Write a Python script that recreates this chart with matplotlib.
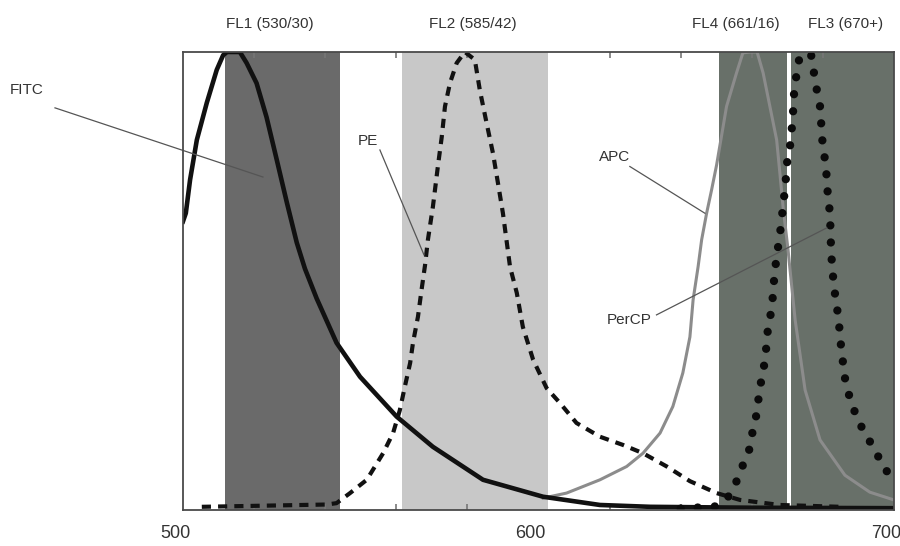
import matplotlib
matplotlib.use('Agg')
import matplotlib.pyplot as plt
from matplotlib.transforms import ScaledTranslation

plt.rcParams['font.family'] = ['Liberation Sans', 'DejaVu Sans']

# ---- filter bands (nm) ----
band_names = ['FL1 (530/30)', 'FL2 (585/42)', 'FL4 (661/16)', 'FL3 (670+)']
band_lo = [511.8, 561.6, 650.8, 671.0]
band_hi = [544.2, 602.7, 669.9, 700.0]
band_colors = ['#6a6a6a', '#c8c8c8', '#687069', '#687069']
band_label_x = [524.5, 581.6, 655.6, 686.5]

# ---- emission spectra (normalised) ----
fitc_nm = [500, 500.8, 502.0, 503.9, 506.7, 509.5, 511.3, 512.4, 516.0, 517.9,
           520.7, 523.5, 526.4, 529.2, 532.0, 534.3, 537.6, 543.2, 549.8, 560.1,
           570.3, 584.4, 601.3, 617.3, 631.4, 660, 700]
fitc_val = [0.63, 0.648, 0.721, 0.808, 0.889, 0.961, 0.993, 1.0, 1.0, 0.976,
            0.932, 0.858, 0.764, 0.672, 0.584, 0.527, 0.462, 0.365, 0.291, 0.204,
            0.138, 0.066, 0.029, 0.011, 0.007, 0.005, 0.004]

pe_nm = [505.3, 540.5, 543.2, 547.0, 551.7, 556.3, 559.1, 561.0, 562.4, 563.9,
         564.7, 566.1, 567.1, 568.1, 568.9, 570.3, 571.7, 572.8, 573.7, 575.1,
         577.0, 579.3, 582.1, 583.5, 585.4, 587.2, 588.6, 590.0, 592.0, 593.9,
         595.6, 598.5, 602.3, 606.0, 610.7, 617.3, 623.8, 629.4, 636.1, 642.6,
         650.1, 656.7, 667.9, 685.0]
pe_val = [0.007, 0.012, 0.015, 0.037, 0.066, 0.124, 0.168, 0.218, 0.269, 0.321,
          0.365, 0.422, 0.480, 0.535, 0.590, 0.662, 0.750, 0.815, 0.881, 0.932,
          0.976, 1.0, 0.983, 0.917, 0.845, 0.779, 0.714, 0.648, 0.531, 0.474,
          0.400, 0.328, 0.266, 0.234, 0.190, 0.160, 0.142, 0.124, 0.095, 0.063,
          0.037, 0.022, 0.011, 0.007]

apc_nm = [601.3, 607.9, 617.3, 624.8, 629.4, 634.2, 637.8, 640.6, 642.6, 643.5,
          644.9, 645.9, 647.3, 648.7, 650.1, 652.9, 655.7, 657.5, 659.5, 661.5,
          663.2, 665.1, 667.0, 667.9, 668.8, 670.2, 672.2, 675.0, 679.2, 686.2,
          693.2, 700.0]
apc_val = [0.026, 0.037, 0.066, 0.095, 0.124, 0.168, 0.226, 0.299, 0.378, 0.459,
           0.531, 0.590, 0.648, 0.699, 0.753, 0.881, 0.954, 0.998, 1.0, 1.0,
           0.954, 0.881, 0.808, 0.736, 0.662, 0.568, 0.415, 0.262, 0.153, 0.076,
           0.039, 0.022]

percp_nm = [640.0, 650.0, 653.5, 655.8, 657.5, 659.5, 660.3, 661.5, 662.0, 662.8,
            663.7, 664.2, 664.6, 665.7, 666.0, 666.5, 667.1, 667.9, 669.5, 669.8,
            670.7, 671.2, 671.6, 671.9, 672.5, 673.3, 676.6, 677.5, 678.3, 679.2,
            679.9, 680.6, 681.1, 681.4, 682.0, 682.3, 682.6, 683.1, 683.7, 684.5,
            684.8, 685.4, 685.9, 686.8, 688.2, 690.4, 695.1, 697.2, 700.0]
percp_val = [0.003, 0.008, 0.030, 0.064, 0.098, 0.136, 0.175, 0.214, 0.251, 0.289,
             0.325, 0.365, 0.402, 0.441, 0.479, 0.522, 0.559, 0.600, 0.712, 0.753,
             0.790, 0.828, 0.867, 0.910, 0.946, 0.983, 0.998, 0.954, 0.917, 0.881,
             0.802, 0.764, 0.726, 0.686, 0.648, 0.570, 0.531, 0.491, 0.454, 0.415,
             0.376, 0.343, 0.300, 0.266, 0.229, 0.188, 0.124, 0.092, 0.066]

x_ticks = [500, 600, 700]
x_minor = [520, 540, 560, 580, 620, 640, 660, 680]

# ---- annotations: label, text pos, leader start, leader end ----
ann_labels = ['FITC', 'PE', 'APC', 'PerCP']
ann_text = [(456.1, 0.917), (552.0, 0.806), (621.5, 0.771), (625.5, 0.415)]
ann_from = [(464.0, 0.878), (555.4, 0.786), (625.7, 0.750), (633.2, 0.426)]
ann_to = [(522.5, 0.727), (567.8, 0.557), (646.8, 0.648), (681.1, 0.616)]

fig = plt.figure(figsize=(9, 5.46), dpi=100)
ax = fig.add_axes([0.2033, 0.0659, 0.79, 0.8389])
ax.set_xlim(500, 700)
ax.set_ylim(0, 1)

for lo, hi, c in zip(band_lo, band_hi, band_colors):
    ax.axvspan(lo, hi, color=c, lw=0, zorder=0)

for name, bx in zip(band_names, band_label_x):
    ax.text(bx, 1.062, name, ha='center', va='center', fontsize=11,
            color='#333333', clip_on=False)

ax.plot(apc_nm, apc_val, color='#8c8c8c', lw=2.2, zorder=2,
        solid_joinstyle='round')
ax.plot(fitc_nm, fitc_val, color='#111111', lw=3.3, zorder=3,
        solid_joinstyle='round')
ax.plot(pe_nm, pe_val, color='#111111', lw=3.0, ls=(0, (2.2, 1.7)), zorder=3)
ax.plot(percp_nm, percp_val, color='#0a0a0a', lw=6.0,
        ls=(0, (0.001, 2.05)), dash_capstyle='round', zorder=4)

for lab, tp, fp, tq in zip(ann_labels, ann_text, ann_from, ann_to):
    ax.plot([fp[0], tq[0]], [fp[1], tq[1]], color='#555555', lw=0.9,
            zorder=5, clip_on=False)
    ax.text(tp[0], tp[1], lab, ha='center', va='center', fontsize=11,
            color='#333333', clip_on=False)

for s in ax.spines.values():
    s.set_color('#4a4a4a')
    s.set_linewidth(1.3)
    s.set_zorder(6)

ax.set_yticks([])
ax.set_xticks(x_ticks)
ax.set_xticks(x_minor, minor=True)
ax.tick_params(axis='x', which='major', length=0, pad=11, labelsize=13,
               labelcolor='#333333')
ax.tick_params(axis='x', which='minor', direction='in', length=4, width=1.2,
               color='#777777', top=True, bottom=True)
offset = ScaledTranslation(-8 / 100, 0, fig.dpi_scale_trans)
for lbl in ax.get_xticklabels():
    lbl.set_transform(lbl.get_transform() + offset)

fig.savefig('out.png', dpi=100)
